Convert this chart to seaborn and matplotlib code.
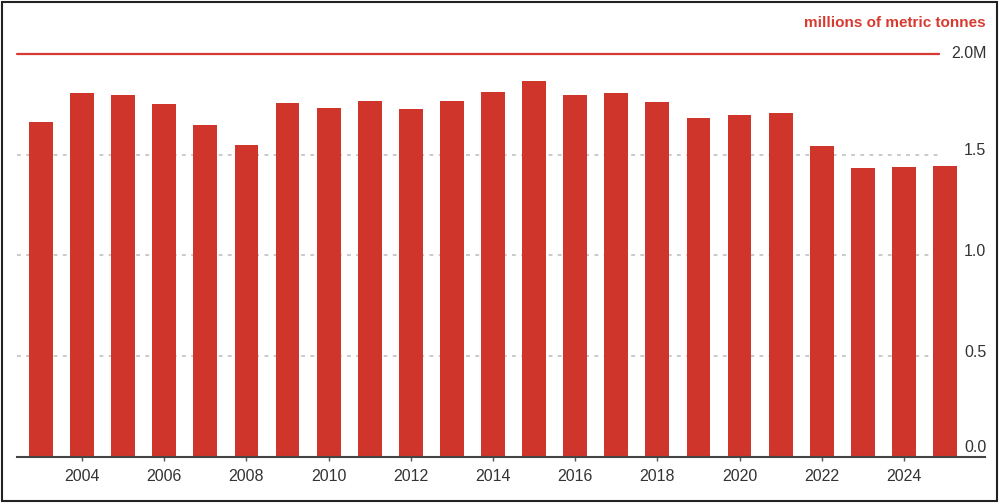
import matplotlib
matplotlib.use("Agg")
import matplotlib.pyplot as plt
import seaborn as sns
import pandas as pd
from matplotlib.patches import Rectangle

years = list(range(2003, 2026))
values = [1.664, 1.805, 1.797, 1.753, 1.646, 1.548, 1.758, 1.730, 1.765, 1.729,
          1.767, 1.813, 1.866, 1.797, 1.808, 1.760, 1.681, 1.699, 1.707, 1.542,
          1.434, 1.438, 1.444]
xtick_years = list(range(2004, 2025, 2))
ytick_vals = [0.0, 0.5, 1.0, 1.5, 2.0]
ytick_labels = ["0.0", "0.5", "1.0", "1.5", "2.0M"]
unit_label = "millions of metric tonnes"

df = pd.DataFrame({"year": years, "value": values})

sns.set_theme(style="white")
plt.rcParams["font.family"] = ["Liberation Sans", "DejaVu Sans"]

BAR = "#d0352b"
RED = "#d83a32"
TXT = "#333333"

fig = plt.figure(figsize=(10, 5.03), dpi=100)
fig.patch.set_facecolor("white")
ax = fig.add_axes([0.017, 0.0915, 0.968, 0.8012])
ax.set_facecolor("none")

sns.barplot(data=df, x="year", y="value", native_scale=True, color=BAR,
            saturation=1, width=0.58, edgecolor="none", linewidth=0, ax=ax, zorder=3)

ax.set_xlim(2002.416, 2025.973)
ax.set_ylim(0, 2.0)

# gridlines (dashed) and red top line
x_end = (939 - 17) / 968
for v in ytick_vals[1:-1]:
    ax.axhline(v, xmin=0, xmax=x_end, color="#bbbbbb", lw=1.1,
               ls=(0, (2.5, 3.5)), zorder=1)
ax.axhline(2.0, xmin=0, xmax=x_end, color=RED, lw=1.6, zorder=2, clip_on=False)

# y tick labels at right end
for v, lab in zip(ytick_vals, ytick_labels):
    dy = 0.045 if v == 0 else (0.02 if v < 2.0 else 0)
    ax.text(1.0015, v + dy, lab, transform=ax.get_yaxis_transform(),
            ha="right", va="center", fontsize=11.5, color=TXT)

ax.set_yticks([])
ax.set_xticks(xtick_years)
ax.set_xticklabels([str(y) for y in xtick_years], fontsize=11.5, color=TXT)
ax.tick_params(axis="x", length=3, width=1, color="#555555", pad=6, bottom=True)
ax.set_xlabel("")
ax.set_ylabel("")

for s in ["top", "right", "left"]:
    ax.spines[s].set_visible(False)
ax.spines["bottom"].set_color("#444444")
ax.spines["bottom"].set_linewidth(1.5)
ax.spines["bottom"].set_zorder(4)

fig.text(0.986, 1 - 22.7 / 503, unit_label, ha="right", va="center",
         fontsize=11, fontweight="bold", color=RED)

fig.patches.append(Rectangle((0.0015, 0.003), 0.995, 0.994, transform=fig.transFigure,
                             fill=False, edgecolor="#222222", lw=1.5))

fig.savefig("out.png", dpi=100, facecolor="white")
